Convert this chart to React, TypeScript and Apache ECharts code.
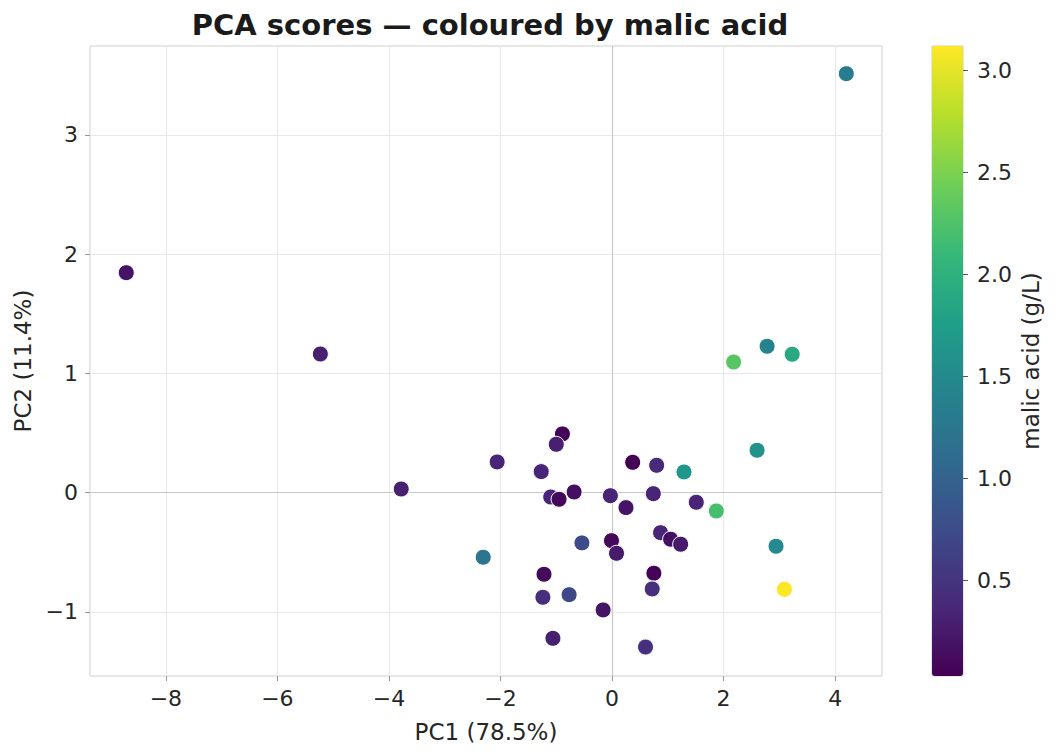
import React, { useEffect, useRef } from "react";
import * as echarts from "echarts";

const pc1: number[] = [
  -8.71, -5.23, -3.78, -2.31, -2.06, -1.27, -0.89, -1.0, -1.1, -0.95,
  -0.68, -0.03, 0.74, 0.37, 0.8, 1.29, 0.25, 1.51, 1.87, 0.87,
  1.05, 1.23, -0.54, -0.01, 0.08, -1.22, 0.75, 0.72, -1.24, -0.77,
  -0.16, -1.06, 0.6, 2.18, 2.78, 3.23, 2.6, 2.94, 3.09, 4.2,
];
const pc2: number[] = [
  1.845, 1.163, 0.031, -0.541, 0.258, 0.177, 0.493, 0.406, -0.036, -0.055,
  0.006, -0.025, -0.008, 0.255, 0.23, 0.174, -0.125, -0.08, -0.153, -0.335,
  -0.39, -0.432, -0.421, -0.402, -0.508, -0.684, -0.675, -0.807, -0.877, -0.855,
  -0.983, -1.221, -1.294, 1.096, 1.228, 1.161, 0.356, -0.449, -0.81, 3.514,
];
const malicAcid: number[] = [
  0.2, 0.3, 0.3, 1.25, 0.35, 0.35, 0.05, 0.3, 0.35, 0.1,
  0.15, 0.35, 0.35, 0.03, 0.4, 1.65, 0.2, 0.35, 2.2, 0.35,
  0.15, 0.25, 0.75, 0.1, 0.25, 0.1, 0.05, 0.45, 0.45, 0.7,
  0.2, 0.3, 0.45, 2.3, 1.42, 1.88, 1.6, 1.5, 3.12, 1.32,
];
const colorbarTicks: number[] = [0.5, 1.0, 1.5, 2.0, 2.5, 3.0];
const viridis: string[] = [
  "#440154", "#482878", "#3e4989", "#31688e", "#26828e",
  "#1f9e89", "#35b779", "#6ece58", "#b5de2b", "#fde725",
];

const FONT = "DejaVu Sans";
const TICK_FS = 22;
const LABEL_FS = 23;
const minus = (v: number) => String(Math.round(v)).replace("-", "\u2212");

export default function App() {
  const ref = useRef<HTMLDivElement>(null);
  useEffect(() => {
    if (!ref.current) return;
    const chart = echarts.init(ref.current, undefined, { renderer: "svg" });
    const data = pc1.map((x, i) => [x, pc2[i], malicAcid[i]]);
    const cMin = 0.03;
    const cMax = 3.12;
    chart.setOption({
      animation: false,
      backgroundColor: "#ffffff",
      textStyle: { fontFamily: FONT },
      graphic: [
        {
          type: "text",
          x: 490,
          y: 25,
          style: {
            text: "PCA scores \u2014 coloured by malic acid",
            align: "center",
            verticalAlign: "middle",
            font: `bold 29px "${FONT}"`,
            fill: "#1a1a1a",
          },
        },
      ],
      grid: [
        { left: 90, right: 174, top: 46, bottom: 79, show: true, borderColor: "#cccccc", borderWidth: 1 },
        { left: 932, width: 31, top: 46, height: 630, show: true, borderColor: "#cccccc", borderWidth: 1, backgroundColor: "transparent" },
      ],
      xAxis: [
        {
          type: "value",
          gridIndex: 0,
          min: -9.36,
          max: 4.84,
          splitNumber: 7,
          name: "PC1 (78.5%)",
          nameLocation: "middle",
          nameGap: 44,
          nameTextStyle: { fontSize: LABEL_FS, color: "#262626", fontFamily: FONT },
          axisLine: { show: false, onZero: false },
          axisTick: { show: true, length: 5, lineStyle: { color: "#999999", width: 1 } },
          axisLabel: {
            showMinLabel: false,
            showMaxLabel: false,
            fontSize: TICK_FS,
            color: "#262626",
            margin: 11,
            fontFamily: FONT,
            formatter: (v: number) => minus(v),
          },
          splitLine: { show: true, lineStyle: { color: "#e8e8e8", width: 1 } },
        },
        { type: "value", gridIndex: 1, show: false, min: 0, max: 1 },
      ],
      yAxis: [
        {
          type: "value",
          gridIndex: 0,
          min: -1.537,
          max: 3.746,
          splitNumber: 5,
          name: "PC2 (11.4%)",
          nameLocation: "middle",
          nameGap: 56,
          nameRotate: 90,
          nameTextStyle: { fontSize: LABEL_FS, color: "#262626", fontFamily: FONT },
          axisLine: { show: false, onZero: false },
          axisTick: { show: true, length: 5, lineStyle: { color: "#999999", width: 1 } },
          axisLabel: {
            showMinLabel: false,
            showMaxLabel: false,
            fontSize: TICK_FS,
            color: "#262626",
            margin: 12,
            fontFamily: FONT,
            formatter: (v: number) => minus(v),
          },
          splitLine: { show: true, lineStyle: { color: "#e8e8e8", width: 1 } },
        },
        {
          type: "value",
          gridIndex: 1,
          position: "right",
          min: cMin,
          max: cMax,
          name: "malic acid (g/L)",
          nameLocation: "middle",
          nameGap: 56,
          nameRotate: 90,
          nameTextStyle: { fontSize: LABEL_FS, color: "#262626", fontFamily: FONT },
          axisLine: { show: false, onZero: false },
          splitLine: { show: false },
          axisTick: {
            show: true,
            length: 5,
            customValues: colorbarTicks,
            lineStyle: { color: "#555555", width: 1 },
          },
          axisLabel: {
            show: true,
            customValues: colorbarTicks,
            fontSize: TICK_FS,
            color: "#262626",
            margin: 14,
            fontFamily: FONT,
            formatter: (v: number) => v.toFixed(1),
          },
        },
      ],
      visualMap: [
        {
          type: "continuous",
          seriesIndex: 0,
          dimension: 2,
          min: cMin,
          max: cMax,
          show: true,
          calculable: false,
          hoverLink: false,
          left: 932,
          top: 46,
          padding: 0,
          itemWidth: 31,
          itemHeight: 630,
          text: ["", ""],
          showLabel: false,
          inRange: { color: viridis },
        },
      ],
      series: [
        {
          type: "scatter",
          xAxisIndex: 0,
          yAxisIndex: 0,
          data,
          symbolSize: 16,
          itemStyle: { borderColor: "#ffffff", borderWidth: 1, opacity: 1 },
          z: 3,
          markLine: {
            silent: true,
            symbol: "none",
            label: { show: false },
            lineStyle: { color: "#c8c8c8", width: 1.2, type: "solid" },
            data: [{ xAxis: 0 }, { yAxis: 0 }],
            z: 1,
          },
        },
      ],
    });
    return () => chart.dispose();
  }, []);
  return (
    <div
      ref={ref}
      style={{ position: "fixed", left: 0, top: 0, width: 1056, height: 755 }}
    />
  );
}
